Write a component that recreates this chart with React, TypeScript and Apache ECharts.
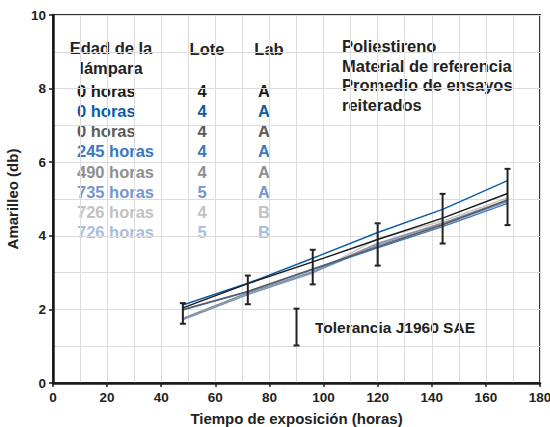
import React, { useEffect, useRef } from "react";
import * as echarts from "echarts";

const hours = [48, 72, 96, 120, 144, 168];
const s0hBlack = [2.04, 2.7, 3.29, 3.9, 4.48, 5.15];
const s0hDarkBlue = [2.12, 2.71, 3.39, 4.09, 4.72, 5.5];
const s0hGray = [2.0, 2.49, 3.1, 3.7, 4.3, 4.97];
const s245h = [1.98, 2.48, 3.08, 3.67, 4.25, 4.88];
const s490h = [1.75, 2.45, 3.02, 3.78, 4.34, 4.98];
const s735h = [1.72, 2.4, 3.0, 3.74, 4.3, 4.93];
const s726hL4 = [1.72, 2.42, 2.98, 3.92, 4.4, 5.03];
const s726hL5 = [1.76, 2.44, 3.03, 3.8, 4.35, 4.96];

const errLow = [1.61, 2.14, 2.68, 3.19, 3.79, 4.29];
const errHigh = [2.17, 2.92, 3.62, 4.34, 5.14, 5.82];
const tolerance = [[90, 1.02, 2.02]];

const ageLabels = ["0 horas", "0 horas", "0 horas", "245 horas", "490 horas", "735 horas", "726 horas", "726 horas"];
const loteLabels = ["4", "4", "4", "4", "4", "5", "4", "5"];
const labLabels = ["A", "A", "A", "A", "A", "A", "B", "B"];
const colors = ["#1a1a1a", "#0b5ca8", "#5a5a5a", "#3a78c0", "#8f8f8f", "#7596cc", "#c2c2c2", "#aabbe0"];
const seriesValues = [s0hBlack, s0hDarkBlue, s0hGray, s245h, s490h, s735h, s726hL4, s726hL5];

const noteLines = ["Poliestireno", "Material de referencia", "Promedio de ensayos", "reiterados"];

const FONT = "'Liberation Sans', Arial, Helvetica, sans-serif";

export default function App() {
  const ref = useRef<HTMLDivElement>(null);
  useEffect(() => {
    if (!ref.current) return;
    document.body.style.margin = "0";
    const chart = echarts.init(ref.current, null, { renderer: "svg" });

    const errRender = (params: any, api: any) => {
      const x = api.value(0);
      const lo = api.coord([x, api.value(1)]);
      const hi = api.coord([x, api.value(2)]);
      const hw = 3;
      const style = { stroke: "#222", lineWidth: 2 };
      return {
        type: "group",
        children: [
          { type: "line", shape: { x1: lo[0], y1: lo[1], x2: hi[0], y2: hi[1] }, style },
          { type: "line", shape: { x1: lo[0] - hw, y1: lo[1], x2: lo[0] + hw, y2: lo[1] }, style },
          { type: "line", shape: { x1: hi[0] - hw, y1: hi[1], x2: hi[0] + hw, y2: hi[1] }, style },
        ],
      };
    };

    const rowY = [91, 111, 131, 151, 171.5, 191.5, 211.5, 231.5];
    const textFont = `bold 16.5px ${FONT}`;
    const graphics: any[] = [
      { type: "text", x: 111, y: 48, style: { text: "Edad de la", font: textFont, fill: "#222", align: "center", verticalAlign: "middle" } },
      { type: "text", x: 111, y: 68, style: { text: "lámpara", font: textFont, fill: "#222", align: "center", verticalAlign: "middle" } },
      { type: "text", x: 207, y: 49, style: { text: "Lote", font: textFont, fill: "#222", align: "center", verticalAlign: "middle" } },
      { type: "text", x: 269, y: 49, style: { text: "Lab", font: textFont, fill: "#222", align: "center", verticalAlign: "middle" } },
    ];
    ageLabels.forEach((t, i) => {
      graphics.push({ type: "text", x: 77, y: rowY[i], style: { text: t, font: textFont, fill: colors[i], align: "left", verticalAlign: "middle" } });
      graphics.push({ type: "text", x: 202, y: rowY[i], style: { text: loteLabels[i], font: textFont, fill: colors[i], align: "center", verticalAlign: "middle" } });
      graphics.push({ type: "text", x: 264, y: rowY[i], style: { text: labLabels[i], font: textFont, fill: colors[i], align: "center", verticalAlign: "middle" } });
    });
    noteLines.forEach((t, i) => {
      graphics.push({ type: "text", x: 342, y: 46 + i * 19.5, style: { text: t, font: textFont, fill: "#222", align: "left", verticalAlign: "middle" } });
    });
    graphics.push({ type: "text", x: 315, y: 327, style: { text: "Tolerancia J1960 SAE", font: `bold 15.5px ${FONT}`, fill: "#222", align: "left", verticalAlign: "middle" } });

    const lineSeries = seriesValues.map((vals, i) => ({
      type: "line",
      name: ageLabels[i] + " " + loteLabels[i] + " " + labLabels[i],
      data: hours.map((h, j) => [h, vals[j]]),
      showSymbol: false,
      symbol: "none",
      lineStyle: { color: colors[i], width: 1.4 },
      z: 2 + (8 - i) * 0.1,
    }));

    chart.setOption({
      animation: false,
      textStyle: { fontFamily: FONT },
      grid: {
        left: 53, right: 10, top: 15, bottom: 44,
        containLabel: false, outerBoundsMode: "none",
        show: true, borderColor: "#333", borderWidth: 2, backgroundColor: "transparent",
      },
      xAxis: {
        type: "value",
        min: 0,
        max: 180,
        interval: 20,
        name: "Tiempo de exposición (horas)",
        nameLocation: "middle",
        nameGap: 28,
        nameTextStyle: { fontWeight: "bold", fontSize: 15, color: "#222", fontFamily: FONT },
        axisLine: { show: true, onZero: false, lineStyle: { color: "#1a1a1a", width: 2.5 } },
        axisTick: { show: true, length: 4, lineStyle: { color: "#1a1a1a", width: 1.5 } },
        axisLabel: { fontWeight: "bold", fontSize: 13.5, color: "#222", margin: 7, fontFamily: FONT },
        splitLine: { show: true, lineStyle: { color: "#dcdcdc", width: 1 } },
        minorTick: { show: false, splitNumber: 2 },
        minorSplitLine: { show: true, lineStyle: { color: "#dcdcdc", width: 1 } },
      },
      yAxis: {
        type: "value",
        min: 0,
        max: 10,
        interval: 2,
        name: "Amarilleo (db)",
        nameLocation: "middle",
        nameGap: 28,
        nameTextStyle: { fontWeight: "bold", fontSize: 15, color: "#222", fontFamily: FONT },
        axisLine: { show: true, onZero: false, lineStyle: { color: "#1a1a1a", width: 2.5 } },
        axisTick: { show: true, length: 4, lineStyle: { color: "#1a1a1a", width: 1.5 } },
        axisLabel: { fontWeight: "bold", fontSize: 13.5, color: "#222", margin: 7, fontFamily: FONT },
        splitLine: { show: true, lineStyle: { color: "#dcdcdc", width: 1 } },
        minorTick: { show: false, splitNumber: 2 },
        minorSplitLine: { show: true, lineStyle: { color: "#dcdcdc", width: 1 } },
      },
      series: [
        ...lineSeries,
        {
          type: "custom",
          name: "error",
          renderItem: errRender,
          data: hours.map((h, j) => [h, errLow[j], errHigh[j]]),
          encode: { x: 0, y: [1, 2] },
          z: 5,
        },
        {
          type: "custom",
          name: "tolerancia",
          renderItem: errRender,
          data: tolerance,
          encode: { x: 0, y: [1, 2] },
          z: 5,
        },
      ],
      graphic: graphics,
    });
    return () => chart.dispose();
  }, []);
  return <div ref={ref} style={{ width: 550, height: 427 }} />;
}
